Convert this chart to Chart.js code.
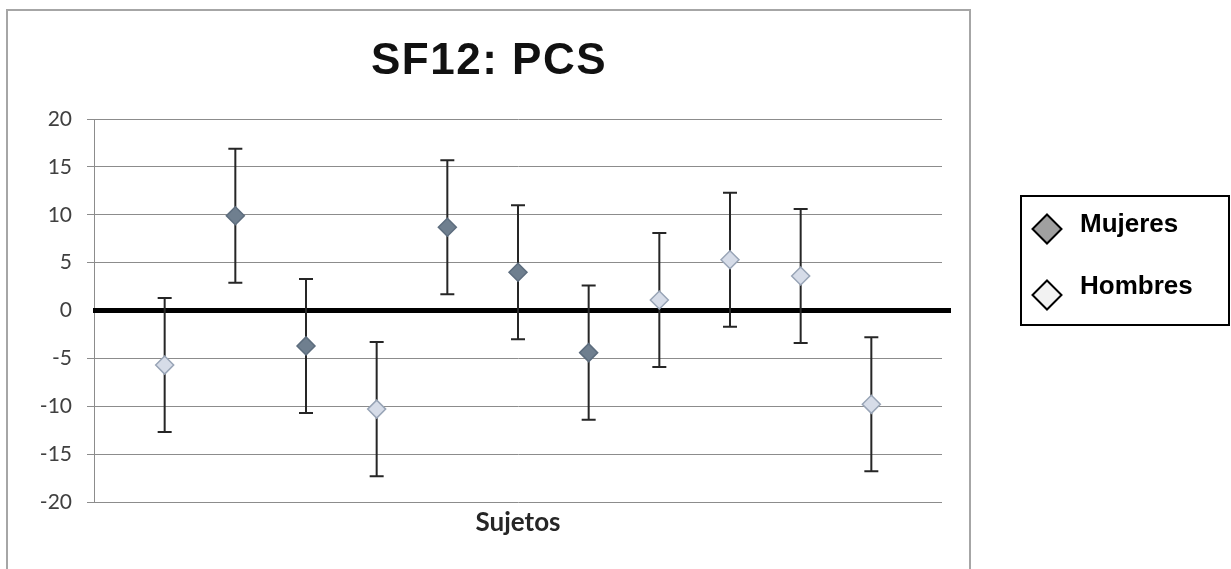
<!DOCTYPE html>
<html>
<head>
<meta charset="utf-8">
<script src="https://cdn.jsdelivr.net/npm/chart.js@4"></script>
<style>
  html, body { margin: 0; padding: 0; background: #fff; }
  #wrap { position: relative; width: 1231px; height: 569px; }
</style>
</head>
<body>
<div id="wrap"><canvas id="pcsChart" width="1231" height="569"></canvas></div>
<script>
// subjects 1..11, PCS score and group
const subjects = [1, 2, 3, 4, 5, 6, 7, 8, 9, 10, 11];
const pcsValues = [-5.7, 9.9, -3.7, -10.3, 8.7, 4.0, -4.4, 1.1, 5.3, 3.6, -9.8];
const pcsErrors = [7, 7, 7, 7, 7, 7, 7, 7, 7, 7, 7];
const groups = ["Hombres", "Mujeres", "Mujeres", "Hombres", "Mujeres", "Mujeres",
  "Mujeres", "Hombres", "Hombres", "Hombres", "Hombres"];
const seriesNames = ["Mujeres", "Hombres"];
const yTicks = [-20, -15, -10, -5, 0, 5, 10, 15, 20];

const pointColors = {
  Mujeres: { fill: "#6f7f8f", border: "#5d6d7e" },
  Hombres: { fill: "#d6dce8", border: "#98a4b6" }
};
const legendColors = { Mujeres: "#a0a0a0", Hombres: "#f2f2f2" };

function buildSeries(name) {
  const pts = [];
  subjects.forEach((s, i) => {
    if (groups[i] === name) pts.push({ x: s, y: pcsValues[i], err: pcsErrors[i] });
  });
  return pts;
}

const datasets = seriesNames.map((name) => ({
  label: name,
  data: buildSeries(name),
  pointStyle: "rectRot",
  pointRadius: 9,
  pointHoverRadius: 9,
  pointBackgroundColor: pointColors[name].fill,
  pointBorderColor: pointColors[name].border,
  pointBorderWidth: 1.5,
  showLine: false
}));

// frame, title, zero line, error bars and legend
const decor = {
  id: "decor",
  beforeDraw(chart) {
    const ctx = chart.ctx;
    ctx.save();
    ctx.fillStyle = "#fff";
    ctx.fillRect(0, 0, chart.width, chart.height);
    ctx.strokeStyle = "#a6a6a6";
    ctx.lineWidth = 2;
    ctx.strokeRect(7, 10, 963, 565);
    ctx.fillStyle = "#111";
    ctx.font = "bold 44px 'Liberation Sans', Arial, sans-serif";
    ctx.textAlign = "center";
    ctx.textBaseline = "alphabetic";
    if ("letterSpacing" in ctx) ctx.letterSpacing = "1.5px";
    ctx.fillText("SF12: PCS", 489, 74);
    ctx.restore();
  },
  beforeDatasetsDraw(chart) {
    const ctx = chart.ctx;
    const y = chart.scales.y;
    const area = chart.chartArea;
    ctx.save();
    // thick zero axis
    const y0 = y.getPixelForValue(0);
    ctx.strokeStyle = "#000";
    ctx.lineWidth = 5;
    ctx.beginPath();
    ctx.moveTo(area.left - 1, y0);
    ctx.lineTo(area.right + 9, y0);
    ctx.stroke();
    // error bars
    ctx.strokeStyle = "#262626";
    ctx.lineWidth = 2;
    chart.data.datasets.forEach((ds, di) => {
      const meta = chart.getDatasetMeta(di);
      meta.data.forEach((el, i) => {
        const d = ds.data[i];
        const top = y.getPixelForValue(d.y + d.err);
        const bot = y.getPixelForValue(d.y - d.err);
        ctx.beginPath();
        ctx.moveTo(el.x, top);
        ctx.lineTo(el.x, bot);
        ctx.moveTo(el.x - 7, top);
        ctx.lineTo(el.x + 7, top);
        ctx.moveTo(el.x - 7, bot);
        ctx.lineTo(el.x + 7, bot);
        ctx.stroke();
      });
    });
    ctx.restore();
  },
  afterDraw(chart) {
    const ctx = chart.ctx;
    ctx.save();
    ctx.strokeStyle = "#000";
    ctx.lineWidth = 2;
    ctx.strokeRect(1021, 196, 208, 129);
    ctx.font = "bold 26px 'Liberation Sans', Arial, sans-serif";
    ctx.textAlign = "left";
    ctx.textBaseline = "alphabetic";
    seriesNames.forEach((name, i) => {
      const cx = 1047, cy = 229 + i * 66, r = 14.5;
      ctx.beginPath();
      ctx.moveTo(cx, cy - r);
      ctx.lineTo(cx + r, cy);
      ctx.lineTo(cx, cy + r);
      ctx.lineTo(cx - r, cy);
      ctx.closePath();
      ctx.fillStyle = legendColors[name];
      ctx.fill();
      ctx.lineWidth = 2;
      ctx.stroke();
      ctx.fillStyle = "#000";
      ctx.fillText(name, 1080, 232 + i * 62);
    });
    ctx.restore();
  }
};

new Chart(document.getElementById("pcsChart"), {
  type: "scatter",
  data: { datasets },
  plugins: [decor],
  options: {
    responsive: false,
    animation: false,
    layout: { padding: { left: 7, right: 289, top: 119, bottom: 31 } },
    plugins: {
      legend: { display: false },
      title: { display: false },
      tooltip: { enabled: false }
    },
    scales: {
      x: {
        type: "linear",
        min: 0,
        max: 12,
        ticks: { display: false },
        grid: { display: false, drawTicks: false },
        border: { display: false },
        title: {
          display: true,
          text: "Sujetos",
          color: "#262626",
          font: { family: "Lato", size: 26, weight: "bold", lineHeight: 1.2 },
          padding: { top: 0, bottom: 0 }
        },
        afterFit(scale) { scale.height = 36; }
      },
      y: {
        min: -20,
        max: 20,
        afterBuildTicks(scale) { scale.ticks = yTicks.map((v) => ({ value: v })); },
        ticks: {
          color: "#404040",
          padding: 15,
          font: { family: "Lato", size: 21 }
        },
        grid: {
          color: (c) => (c.tick && c.tick.value === 0 ? "rgba(0,0,0,0)" : "#8c8c8c"),
          lineWidth: 1,
          tickLength: 7
        },
        border: { display: true, color: "#8c8c8c", width: 1 },
        afterFit(scale) { scale.width = 87; }
      }
    }
  }
});
</script>
</body>
</html>
